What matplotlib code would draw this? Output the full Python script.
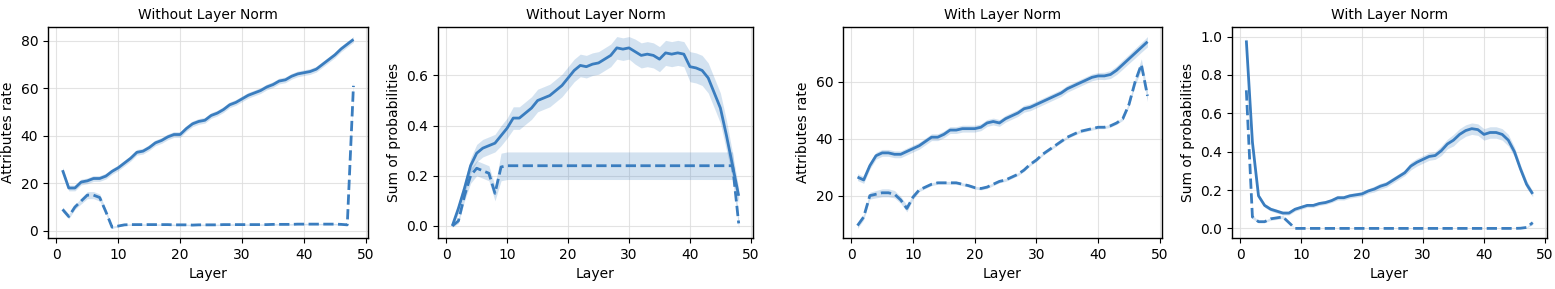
import matplotlib
matplotlib.use('Agg')
import matplotlib.pyplot as plt
import numpy as np

layers = list(range(1, 49))

# Panel 1: without layer norm, attributes rate
attr_noln_solid = [25.5, 18, 18, 20.5, 21, 22, 22, 23, 25, 26.5, 28.5, 30.5, 33, 33.5, 35, 37,
                   38, 39.5, 40.5, 40.5, 43, 45, 46, 46.5, 48.5, 49.5, 51, 53, 54, 55.5, 57, 58,
                   59, 60.5, 61.5, 63, 63.5, 65, 66, 66.5, 67, 68, 70, 72, 74, 76.5, 78.5, 80.5]
attr_noln_dash = [9, 6, 10, 12.5, 15, 15, 14, 8, 1.5, 2, 2.5, 2.6, 2.6, 2.6, 2.6, 2.6,
                  2.6, 2.6, 2.5, 2.5, 2.5, 2.4, 2.5, 2.5, 2.5, 2.5, 2.6, 2.6, 2.6, 2.6, 2.6, 2.6,
                  2.6, 2.6, 2.7, 2.7, 2.7, 2.7, 2.8, 2.8, 2.8, 2.8, 2.8, 2.8, 2.8, 2.7, 2.5, 61]
attr_noln_solid_ci = [1.2] * 48
attr_noln_dash_ci = [1.0, 1.0, 1.0, 1.2, 1.5, 1.5, 1.5, 1.0, 0.5, 0.3, 0.3, 0.3, 0.3, 0.3, 0.3, 0.3,
                     0.3, 0.3, 0.3, 0.3, 0.3, 0.3, 0.3, 0.3, 0.3, 0.3, 0.3, 0.3, 0.3, 0.3, 0.3, 0.3,
                     0.3, 0.3, 0.3, 0.3, 0.3, 0.3, 0.3, 0.3, 0.3, 0.3, 0.3, 0.3, 0.3, 0.3, 0.4, 2.0]

# Panel 2: without layer norm, sum of probabilities
prob_noln_solid = [0.0, 0.07, 0.15, 0.24, 0.29, 0.31, 0.32, 0.33, 0.36, 0.39, 0.43, 0.43, 0.45, 0.47,
                   0.50, 0.51, 0.52, 0.54, 0.56, 0.59, 0.62, 0.64, 0.635, 0.645, 0.65, 0.665, 0.68,
                   0.71, 0.705, 0.71, 0.695, 0.68, 0.685, 0.68, 0.665, 0.69, 0.685, 0.69, 0.685,
                   0.635, 0.63, 0.62, 0.59, 0.53, 0.47, 0.36, 0.24, 0.12]
prob_noln_dash = [0.0, 0.02, 0.12, 0.20, 0.23, 0.22, 0.21, 0.13, 0.235, 0.24, 0.24, 0.24, 0.24, 0.24,
                  0.24, 0.24, 0.24, 0.24, 0.24, 0.24, 0.24, 0.24, 0.24, 0.24, 0.24, 0.24, 0.24,
                  0.24, 0.24, 0.24, 0.24, 0.24, 0.24, 0.24, 0.24, 0.24, 0.24, 0.24, 0.24,
                  0.24, 0.24, 0.24, 0.24, 0.24, 0.24, 0.24, 0.24, 0.01]
prob_noln_solid_ci = [0.005, 0.02, 0.03, 0.03, 0.035, 0.035, 0.035, 0.035, 0.04, 0.04, 0.045, 0.045,
                      0.045, 0.045, 0.045, 0.045, 0.045, 0.045, 0.045, 0.045, 0.045, 0.045, 0.045,
                      0.045, 0.045, 0.045, 0.045, 0.045, 0.045, 0.045, 0.05, 0.05, 0.05, 0.05, 0.05,
                      0.05, 0.05, 0.05, 0.05, 0.06, 0.06, 0.06, 0.06, 0.06, 0.06, 0.06, 0.05, 0.03]
prob_noln_dash_ci = [0.005, 0.01, 0.02, 0.03, 0.03, 0.03, 0.03, 0.03, 0.055, 0.055, 0.055, 0.055,
                     0.055, 0.055, 0.055, 0.055, 0.055, 0.055, 0.055, 0.055, 0.055, 0.055, 0.055,
                     0.055, 0.055, 0.055, 0.055, 0.055, 0.055, 0.055, 0.055, 0.055, 0.055, 0.055,
                     0.055, 0.055, 0.055, 0.055, 0.055, 0.055, 0.055, 0.055, 0.055, 0.055, 0.055,
                     0.055, 0.055, 0.02]

# Panel 3: with layer norm, attributes rate
attr_ln_solid = [26.5, 25.5, 30.5, 34, 35, 35, 34.5, 34.5, 35.5, 36.5, 37.5, 39, 40.5, 40.5, 41.5, 43,
                 43, 43.5, 43.5, 43.5, 44, 45.5, 46, 45.5, 47, 48, 49, 50.5, 51, 52, 53, 54,
                 55, 56, 57.5, 58.5, 59.5, 60.5, 61.5, 62, 62, 62.5, 64, 66, 68, 70, 72, 74]
attr_ln_dash = [9.5, 12.5, 20, 20.5, 21, 21, 20.5, 18.5, 15.5, 19.5, 22, 23, 24, 24.5, 24.5, 24.5,
                24.5, 24, 23.5, 22.8, 22.5, 23, 24, 25, 25.5, 26.5, 27.5, 29, 31, 32.5, 34.5, 36,
                37.5, 39, 40.5, 41.5, 42.5, 43, 43.5, 44, 44, 44.5, 45.5, 47, 52, 60, 66, 55]
attr_ln_solid_ci = [1.2] * 40 + [1.3, 1.4, 1.5, 1.6, 1.6, 1.7, 1.7, 1.8]
attr_ln_dash_ci = [1.0, 1.0, 1.2, 1.3, 1.4, 1.4, 1.3, 1.2, 1.2, 0.8, 0.6, 0.5, 0.5, 0.5, 0.5, 0.5,
                   0.5, 0.5, 0.5, 0.5, 0.5, 0.5, 0.5, 0.5, 0.5, 0.5, 0.5, 0.5, 0.5, 0.5, 0.5, 0.5,
                   0.5, 0.5, 0.5, 0.5, 0.5, 0.5, 0.5, 0.5, 0.5, 0.5, 0.5, 0.6, 0.8, 1.2, 2.0, 2.0]

# Panel 4: with layer norm, sum of probabilities
prob_ln_solid = [0.98, 0.45, 0.17, 0.12, 0.10, 0.09, 0.08, 0.08, 0.10, 0.11, 0.12, 0.12, 0.13, 0.135,
                 0.145, 0.16, 0.16, 0.17, 0.175, 0.18, 0.195, 0.205, 0.22, 0.23, 0.25, 0.27, 0.29,
                 0.325, 0.345, 0.36, 0.375, 0.38, 0.405, 0.44, 0.46, 0.49, 0.51, 0.52, 0.515, 0.49,
                 0.50, 0.50, 0.49, 0.46, 0.40, 0.31, 0.23, 0.18]
prob_ln_dash = [0.72, 0.06, 0.035, 0.035, 0.05, 0.055, 0.06, 0.03, 0.0, 0.0, 0.0, 0.0, 0.0, 0.0,
                0.0, 0.0, 0.0, 0.0, 0.0, 0.0, 0.0, 0.0, 0.0, 0.0, 0.0, 0.0, 0.0, 0.0, 0.0, 0.0,
                0.0, 0.0, 0.0, 0.0, 0.0, 0.0, 0.0, 0.0, 0.0, 0.0, 0.0, 0.0, 0.0, 0.0, 0.0, 0.001,
                0.005, 0.03]
prob_ln_solid_ci = [0.02, 0.02, 0.01, 0.01, 0.01, 0.01, 0.01, 0.01, 0.01, 0.01, 0.01, 0.01, 0.01,
                    0.01, 0.01, 0.012, 0.012, 0.012, 0.012, 0.012, 0.012, 0.015, 0.015, 0.015, 0.015,
                    0.015, 0.015, 0.02, 0.02, 0.02, 0.02, 0.02, 0.025, 0.025, 0.03, 0.03, 0.03, 0.03,
                    0.03, 0.03, 0.03, 0.03, 0.03, 0.03, 0.025, 0.02, 0.02, 0.015]
prob_ln_dash_ci = [0.02, 0.01, 0.005, 0.005, 0.008, 0.008, 0.008, 0.005] + [0.0] * 37 + [0.001, 0.002, 0.01]

titles = ["Without Layer Norm", "Without Layer Norm", "With Layer Norm", "With Layer Norm"]
ylabels = ["Attributes rate", "Sum of probabilities", "Attributes rate", "Sum of probabilities"]
panels = [
    (attr_noln_solid, attr_noln_solid_ci, attr_noln_dash, attr_noln_dash_ci),
    (prob_noln_solid, prob_noln_solid_ci, prob_noln_dash, prob_noln_dash_ci),
    (attr_ln_solid, attr_ln_solid_ci, attr_ln_dash, attr_ln_dash_ci),
    (prob_ln_solid, prob_ln_solid_ci, prob_ln_dash, prob_ln_dash_ci),
]

color = '#3a7dbf'
W, H = 1555, 289
fig = plt.figure(figsize=(W / 100, H / 100), dpi=100)

# axes boxes in pixels: (left, width)
boxes = [(48, 320), (438, 315), (843, 319), (1232, 315)]
top_px, bottom_px = 27, 238

x = np.array(layers)
for i, (left, width) in enumerate(boxes):
    ax = fig.add_axes([left / W, 1 - bottom_px / H, width / W, (bottom_px - top_px) / H])
    solid, solid_ci, dash, dash_ci = [np.array(a) for a in panels[i]]

    ax.fill_between(x, solid - solid_ci, solid + solid_ci, color=color, alpha=0.22, linewidth=0)
    ax.fill_between(x, dash - dash_ci, dash + dash_ci, color=color, alpha=0.22, linewidth=0)
    ax.plot(x, solid, color=color, linewidth=2, solid_capstyle='butt')
    ax.plot(x, dash, color=color, linewidth=2, linestyle=(0, (3.7, 1.6)))

    ax.set_title(titles[i], fontsize=10)
    ax.set_xlabel("Layer", fontsize=10)
    ax.set_ylabel(ylabels[i], fontsize=10)
    ax.set_xticks([0, 10, 20, 30, 40, 50])
    ax.tick_params(labelsize=10, direction='out', length=3.5, width=0.8)
    ax.grid(True, color='#dddddd', linewidth=0.8, alpha=0.8)
    ax.set_axisbelow(True)
    for s in ax.spines.values():
        s.set_linewidth(1.0)
        s.set_color('black')

fig.savefig('out.png', dpi=100)
